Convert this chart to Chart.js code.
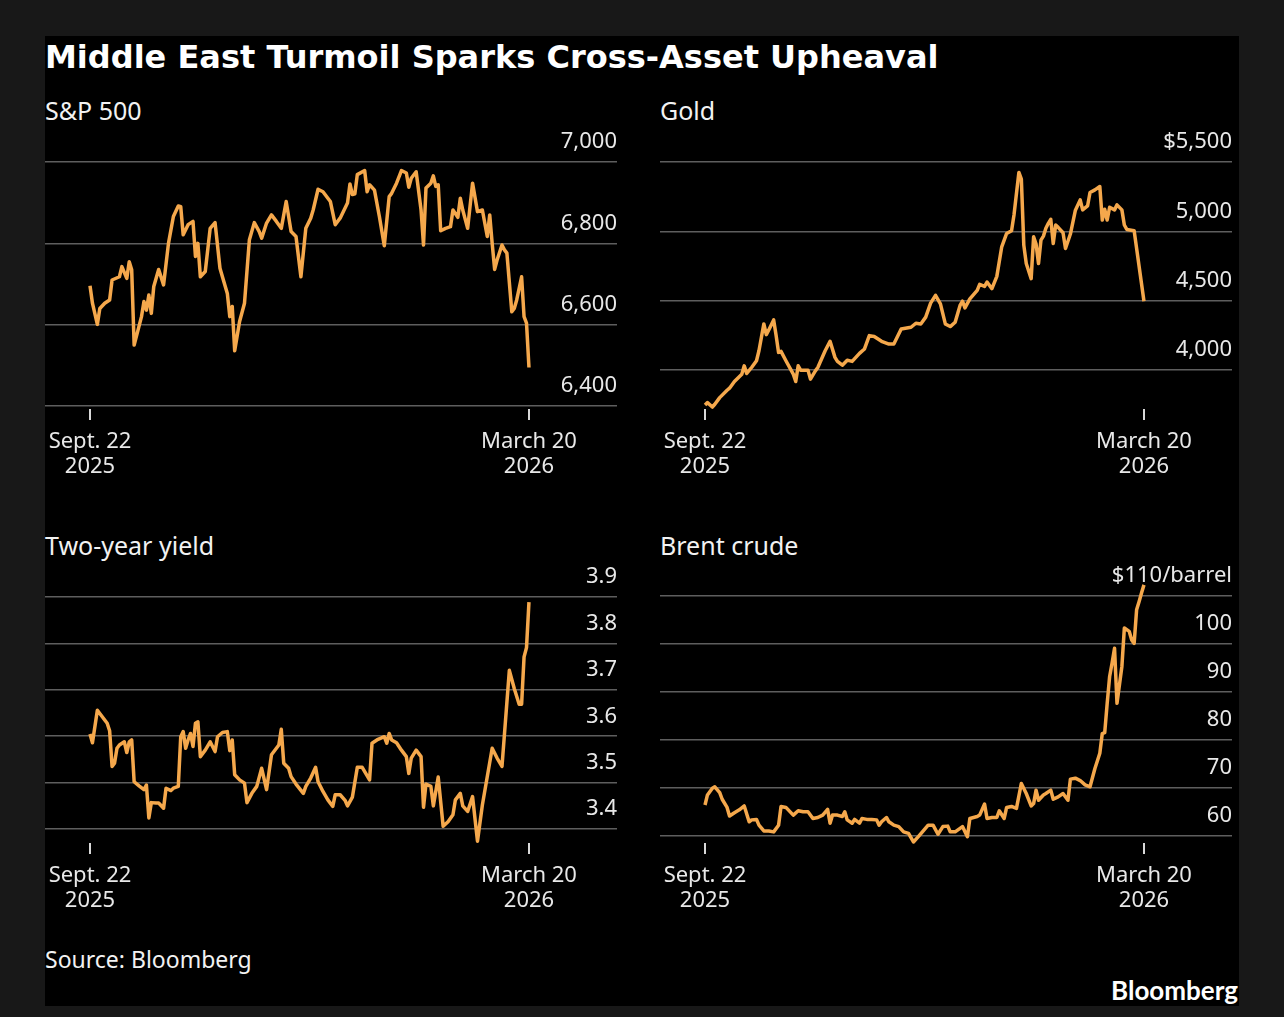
<!DOCTYPE html>
<html>
<head>
<meta charset="utf-8">
<script src="https://cdn.jsdelivr.net/npm/chart.js@4.4.1/dist/chart.umd.min.js"></script>
<style>
  html, body { margin: 0; padding: 0; }
  body { width: 1284px; height: 1017px; background: #181818; position: relative; overflow: hidden; font-family: "Noto Sans", sans-serif; }
  #frame { position: absolute; left: 45px; top: 36px; width: 1194px; height: 970px; background: #000; }
  .txt { position: absolute; color: #f2f2f2; white-space: nowrap; }
  #title { left: 45px; top: 38px; line-height: 38px; font: bold 32px "DejaVu Sans", sans-serif; color: #fff; }
  .sub { font-size: 25px; line-height: 30px; }
  #source { left: 45px; top: 945px; font-size: 23px; line-height: 28px; }
  #logo { right: 46px; top: 975px; font: bold 26px Lato, sans-serif; line-height: 30px; color: #fff; }
  canvas { position: absolute; }
</style>
</head>
<body>
<div id="frame"></div>
<div class="txt" id="title">Middle East Turmoil Sparks Cross-Asset Upheaval</div>
<div class="txt sub" style="left:45px; top:95px;">S&amp;P 500</div>
<div class="txt sub" style="left:660px; top:95px;">Gold</div>
<div class="txt sub" style="left:45px; top:530px;">Two-year yield</div>
<div class="txt sub" style="left:660px; top:530px;">Brent crude</div>
<div class="txt" id="source">Source: Bloomberg</div>
<div class="txt" id="logo">Bloomberg</div>

<canvas id="spx" width="572" height="355" style="left:45px; top:125px;"></canvas>
<canvas id="gold" width="572" height="355" style="left:660px; top:125px;"></canvas>
<canvas id="yield" width="572" height="355" style="left:45px; top:560px;"></canvas>
<canvas id="brent" width="572" height="355" style="left:660px; top:560px;"></canvas>

<script>
// x = calendar days since Sept. 22, 2025 (March 20, 2026 = day 179)
const firstDay = 0;
const lastDay = 179;
const dateLabels = [["Sept. 22", "2025"], ["March 20", "2026"]];

// S&P 500 index level
const spx = [[0,6696],[1,6653],[3,6601],[4,6640],[6,6653],[8,6661],[9,6710],[12,6718],[13,6743],[15,6714],[16,6755],[17,6735],[18,6550],[21,6620],[22,6657],[23,6636],[24,6673],[25,6628],[26,6694],[28,6736],[30,6698],[32,6800],[34,6866],[36,6892],[37,6890],[38,6821],[40,6846],[42,6854],[43,6768],[44,6800],[45,6718],[47,6731],[49,6837],[51,6851],[53,6739],[54,6718],[56,6677],[57,6620],[58,6645],[59,6536],[61,6608],[63,6653],[65,6809],[67,6851],[69,6829],[70,6813],[72,6850],[74,6870],[76,6854],[78,6837],[80,6903],[82,6829],[84,6817],[86,6718],[88,6837],[90,6862],[91,6882],[93,6933],[95,6927],[98,6903],[100,6846],[102,6862],[105,6899],[106,6946],[107,6920],[108,6922],[109,6969],[112,6979],[113,6927],[114,6944],[116,6931],[118,6866],[120,6794],[122,6915],[123,6923],[125,6948],[127,6979],[129,6973],[130,6938],[131,6960],[133,6976],[135,6882],[136,6796],[137,6936],[139,6948],[140,6966],[141,6940],[142,6944],[143,6831],[145,6837],[147,6841],[148,6882],[150,6864],[151,6911],[152,6882],[154,6837],[156,6948],[158,6878],[160,6882],[162,6817],[163,6870],[164,6800],[165,6736],[166,6759],[168,6796],[169,6784],[170,6776],[172,6632],[173,6640],[174,6661],[176,6718],[177,6620],[178,6604],[179,6495]];
const spxTicks = [6400, 6600, 6800, 7000];

// Gold, $/oz
const gold = [[0,3749],[1,3766],[3,3734],[4,3754],[6,3802],[9,3855],[10,3870],[12,3918],[15,3971],[16,4031],[17,3976],[19,4019],[21,4068],[22,4140],[24,4333],[25,4256],[26,4290],[28,4362],[29,4249],[30,4128],[31,4135],[33,4068],[36,3971],[37,3918],[38,4031],[39,4000],[42,4000],[43,3935],[45,3995],[46,4019],[49,4140],[51,4208],[53,4092],[54,4063],[56,4036],[58,4072],[60,4063],[63,4121],[65,4152],[67,4249],[69,4242],[72,4208],[75,4188],[77,4188],[80,4297],[84,4309],[86,4338],[88,4333],[90,4382],[92,4483],[94,4539],[96,4478],[98,4333],[100,4314],[102,4345],[104,4466],[105,4497],[106,4449],[108,4514],[111,4575],[112,4618],[114,4604],[115,4635],[117,4587],[119,4676],[121,4889],[123,4985],[125,5005],[126,5118],[128,5425],[129,5377],[130,4901],[131,4768],[133,4659],[134,4961],[135,4908],[136,4768],[137,4937],[138,4966],[139,5022],[140,5058],[141,5087],[142,4913],[143,5046],[144,5029],[146,4990],[147,4877],[149,4981],[151,5150],[153,5227],[154,5155],[156,5183],[157,5280],[159,5299],[161,5323],[162,5082],[163,5159],[164,5082],[165,5174],[167,5155],[168,5191],[170,5155],[171,5046],[172,5014],[175,5005],[179,4497]];
const goldTicks = [4000, 4500, 5000, 5500];

// US two-year Treasury yield, %
const yield2y = [[0,3.605],[1,3.586],[3,3.656],[5,3.642],[7,3.628],[8,3.612],[9,3.535],[10,3.542],[11,3.574],[12,3.581],[14,3.588],[15,3.565],[16,3.588],[17,3.592],[18,3.502],[20,3.493],[22,3.485],[23,3.495],[24,3.424],[25,3.457],[27,3.456],[28,3.456],[30,3.445],[31,3.488],[33,3.483],[34,3.488],[36,3.492],[37,3.599],[38,3.610],[39,3.574],[40,3.592],[41,3.606],[42,3.578],[43,3.628],[44,3.631],[45,3.556],[47,3.570],[49,3.588],[51,3.567],[52,3.599],[54,3.608],[56,3.610],[57,3.569],[58,3.592],[59,3.517],[61,3.506],[63,3.499],[64,3.457],[66,3.477],[68,3.492],[70,3.531],[72,3.485],[74,3.560],[76,3.574],[77,3.581],[78,3.615],[79,3.542],[81,3.531],[82,3.513],[84,3.497],[87,3.477],[88,3.492],[90,3.510],[92,3.533],[93,3.502],[95,3.481],[97,3.463],[99,3.449],[100,3.474],[102,3.474],[104,3.462],[105,3.450],[107,3.469],[109,3.533],[111,3.533],[114,3.506],[115,3.585],[117,3.592],[120,3.599],[121,3.585],[122,3.606],[123,3.592],[125,3.586],[127,3.570],[129,3.556],[130,3.520],[131,3.553],[133,3.570],[135,3.556],[136,3.447],[137,3.497],[139,3.492],[140,3.450],[142,3.512],[144,3.406],[146,3.416],[148,3.431],[149,3.463],[151,3.477],[152,3.450],[154,3.438],[156,3.470],[158,3.374],[160,3.452],[164,3.574],[166,3.553],[168,3.535],[171,3.742],[173,3.703],[175,3.669],[176,3.669],[177,3.771],[178,3.791],[179,3.889]];
const yieldTicks = [3.4, 3.5, 3.6, 3.7, 3.8, 3.9];

// Brent crude, $/barrel
const brent = [[0,66.4],[1,68.5],[3,69.9],[4,70.2],[6,69.0],[7,67.6],[9,65.9],[10,64.1],[12,64.8],[14,65.4],[16,66.2],[18,62.9],[19,63.3],[21,63.4],[22,62.2],[24,61.0],[26,61.0],[28,60.8],[30,62.2],[31,66.1],[33,65.9],[36,64.3],[38,65.2],[40,65.0],[42,65.0],[44,63.6],[46,63.8],[48,64.3],[50,65.5],[51,62.6],[52,64.3],[54,64.3],[56,64.0],[57,65.0],[58,63.3],[60,62.6],[61,63.4],[63,62.6],[64,63.6],[66,63.4],[68,63.4],[70,63.3],[71,62.2],[72,62.9],[74,63.8],[75,62.9],[77,62.2],[79,61.9],[81,60.8],[83,60.5],[85,58.7],[87,59.8],[89,61.0],[91,62.2],[93,62.2],[95,60.3],[97,61.9],[99,62.0],[100,60.8],[102,60.8],[105,61.9],[107,59.8],[108,63.6],[111,64.0],[112,64.3],[114,66.6],[115,63.6],[117,63.8],[119,63.8],[120,65.2],[122,63.6],[123,65.9],[125,66.1],[127,65.7],[129,70.9],[131,68.8],[133,66.2],[134,66.7],[135,69.5],[136,67.4],[138,68.5],[139,68.8],[141,69.5],[142,67.6],[144,68.1],[146,68.8],[148,67.4],[149,71.8],[151,72.0],[153,71.5],[155,70.6],[157,70.2],[159,74.0],[161,77.2],[162,81.3],[163,81.5],[164,87.6],[165,93.2],[166,96.0],[167,99.1],[168,87.6],[170,95.3],[171,103.3],[173,102.6],[174,100.8],[175,100.1],[176,107.1],[177,108.8],[178,110.6],[179,112.3]];
const brentTicks = [60, 70, 80, 90, 100, 110];

const LINE = "#f5a84c";
const GRID = "#5e5e5e";
const LABEL = "#e8e8e8";
const tickFont = { family: "Noto Sans", size: 22, lineHeight: 1.13 };

function panel(id, series, yMin, yMax, yTicks, fmt, padTop, axisHeight) {
  new Chart(document.getElementById(id), {
    type: "line",
    data: {
      datasets: [{
        data: series.map(([d, v]) => ({ x: d, y: v })),
        borderColor: LINE,
        borderWidth: 3.5,
        pointRadius: 0,
        tension: 0,
        borderJoinStyle: "round",
        clip: false,
      }],
    },
    options: {
      responsive: false,
      animation: false,
      layout: { padding: { top: padTop, left: 0, right: 0, bottom: 0 } },
      plugins: { legend: { display: false }, tooltip: { enabled: false } },
      scales: {
        x: {
          type: "linear",
          min: -18.35,
          max: 214.9,
          afterBuildTicks: (s) => { s.ticks = [{ value: firstDay }, { value: lastDay }]; },
          afterFit: (s) => {
            // gridlines run past the date ticks, so no extra room for labels
            s.height = axisHeight;
            s.paddingLeft = 0;
            s.paddingRight = 0;
          },
          grid: { drawOnChartArea: false, drawTicks: true, tickLength: 11, color: "#d8d8d8", lineWidth: 2 },
          border: { display: false },
          ticks: {
            autoSkip: false,
            maxRotation: 0,
            padding: 9,
            color: LABEL,
            font: tickFont,
            callback: (v) => (v === firstDay ? dateLabels[0] : dateLabels[1]),
          },
        },
        y: {
          position: "right",
          min: yMin,
          max: yMax,
          afterBuildTicks: (s) => { s.ticks = yTicks.map((v) => ({ value: v })); },
          grid: { color: GRID, lineWidth: 1.5, drawTicks: false },
          border: { display: false },
          ticks: {
            mirror: true,
            padding: 0,
            labelOffset: -20,
            color: LABEL,
            font: tickFont,
            callback: fmt,
          },
        },
      },
    },
  });
}

const comma = (v) => v.toLocaleString("en-US");

panel("spx", spx, 6393, 7000, spxTicks, comma, 37, 71);
panel("gold", gold, 3720, 5500, goldTicks, (v) => (v === 5500 ? "$5,500" : comma(v)), 37, 71);
panel("yield", yield2y, 3.37, 3.9, yieldTicks, (v) => v.toFixed(1), 37, 72);
panel("brent", brent, 58.48, 112.9, brentTicks, (v) => (v === 110 ? "$110/barrel" : String(v)), 22, 72);
</script>
</body>
</html>
